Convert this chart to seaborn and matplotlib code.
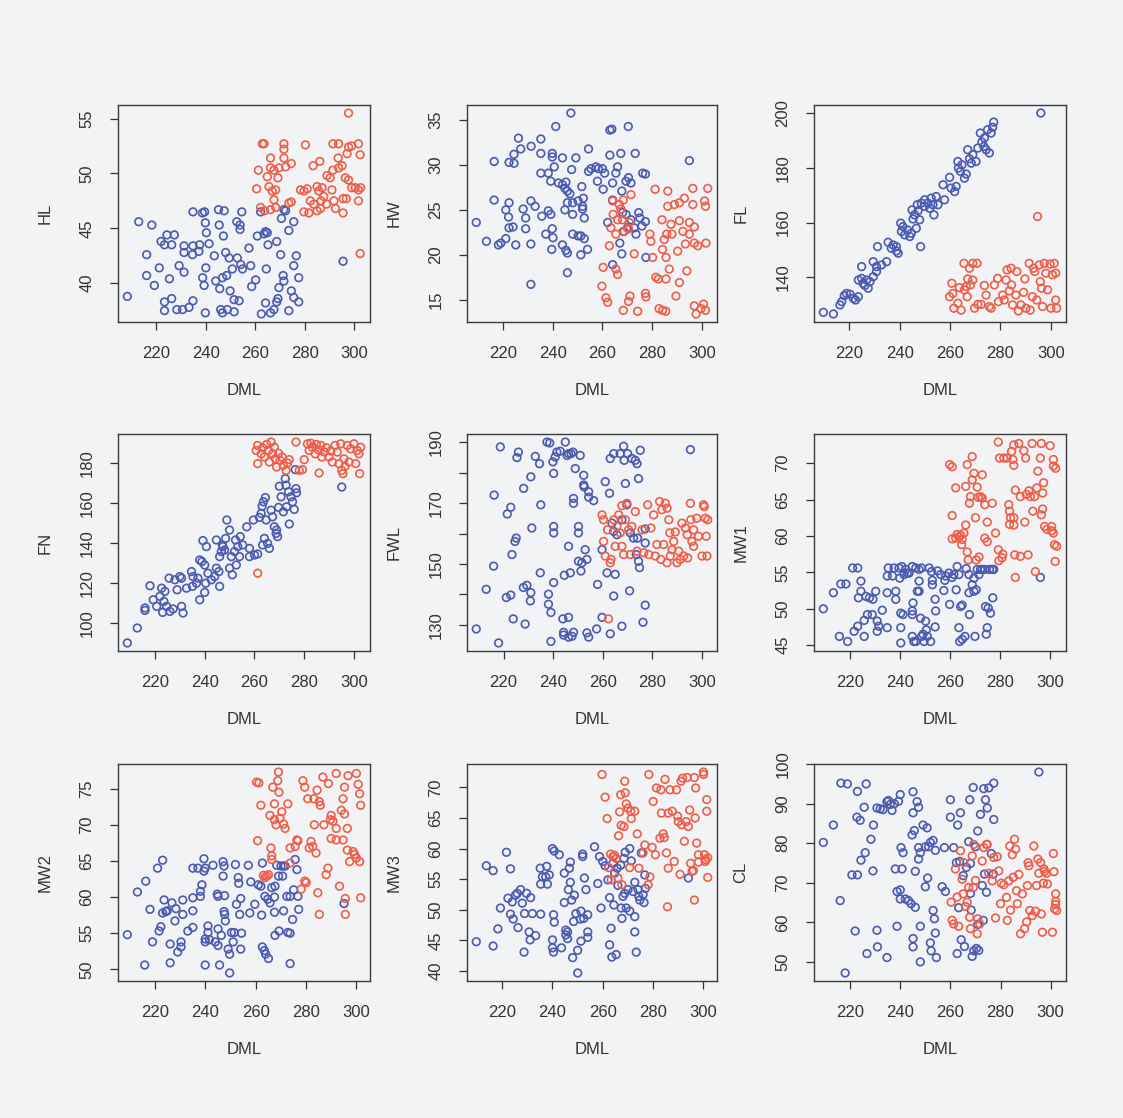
import numpy as np
import pandas as pd
import seaborn as sns
import matplotlib
matplotlib.use("Agg")
import matplotlib.pyplot as plt

hl_blue = [(208.4,38.8),(213.0,45.6),(218.3,45.3),(216.2,42.6),(216.2,40.7),(219.3,39.8),(221.3,41.4),(222.0,43.8),
    (224.4,44.4),(223.4,43.5),(226.3,43.5),(227.4,44.4),(225.4,40.4),(223.4,38.3),(223.4,37.5),(226.3,38.6),
    (228.4,37.6),(230.7,37.6),(229.3,41.6),(231.3,41.0),(231.3,42.8),(231.3,43.4),(233.3,37.8),(234.9,38.4),
    (234.9,43.4),(234.9,46.5),(234.7,42.6),(237.3,42.9),(237.6,43.5),(238.7,46.4),(239.6,46.5),(240.3,44.6),
    (239.9,45.5),(238.8,40.5),(239.4,39.8),(239.9,37.3),(241.4,43.6),(240.1,41.4),(244.1,40.2),(243.5,42.5),
    (245.2,46.7),(245.5,45.3),(247.2,44.3),(247.5,46.6),(245.7,39.5),(246.8,40.5),(246.1,37.6),(246.8,37.3),
    (248.8,37.6),(248.1,42.8),(249.5,42.3),(248.5,40.7),(249.9,39.3),(250.8,41.3),(251.5,38.5),(251.5,37.4),
    (252.8,42.3),(252.6,45.6),(253.9,44.9),(253.9,45.3),(254.6,46.5),(254.2,41.7),(254.9,41.3),(253.5,38.4),
    (257.5,43.2),(258.2,41.6),(258.6,39.7),(260.2,40.3),(260.9,44.3),(262.2,46.5),(263.6,44.5),(264.2,44.7),
    (264.9,44.6),(265.2,43.5),(264.5,41.3),(264.2,38.2),(262.5,37.2),(266.2,37.3),(267.6,37.6),(268.7,38.3),
    (269.2,38.6),(268.7,43.8),(270.3,42.6),(270.6,45.9),(271.6,46.7),(272.3,46.6),(269.6,39.6),(271.3,40.7),
    (271.6,40.2),(273.6,37.5),(273.6,44.8),(274.6,39.3),(275.6,41.6),(275.6,45.6),(276.6,42.5),(275.6,38.7),
    (277.6,38.3),(277.6,40.5),(295.5,42.0)]
hl_red = [(262.9,52.7),(263.6,52.7),(261.3,50.3),(260.6,48.6),(262.2,46.9),(263.8,46.6),(264.9,49.7),(266.2,51.4),
    (266.2,50.5),(267.6,50.3),(265.6,48.8),(266.9,48.4),(268.3,48.5),(269.2,49.6),(269.6,50.5),(267.6,47.6),
    (268.3,46.9),(266.2,46.7),(271.6,52.7),(271.6,52.2),(271.6,51.4),(272.3,50.6),(274.6,50.9),(273.6,47.3),
    (274.6,47.4),(280.3,52.6),(278.3,48.5),(279.7,48.4),(281.0,48.6),(279.7,46.5),(281.7,46.4),(282.3,47.5),
    (283.7,47.2),(283.4,50.7),(286.1,51.1),(285.0,48.8),(285.7,48.4),(287.0,48.7),(287.7,47.9),(286.6,47.5),
    (288.8,47.2),(285.0,46.6),(286.4,46.8),(289.0,49.8),(290.3,49.6),(291.0,48.5),(291.4,50.3),(291.4,52.7),
    (291.8,47.5),(292.4,46.8),(293.7,52.7),(293.5,51.4),(293.7,50.5),(295.1,50.7),(295.5,47.7),(296.8,47.7),
    (295.5,46.4),(296.4,49.6),(297.7,49.4),(297.1,51.8),(297.7,52.4),(299.0,52.5),(297.7,55.5),(299.0,48.7),
    (300.4,48.7),(301.7,52.7),(302.4,51.7),(301.7,48.5),(302.6,48.7),(301.7,47.5),(302.4,42.7)]

hw_blue = [(209.2,23.6),(213.3,21.5),(216.4,26.1),(216.4,30.4),(218.1,21.1),(219.1,21.3),(221.1,21.8),(221.1,25.0),
    (222.4,25.8),(222.2,24.2),(222.4,23.0),(224.0,23.1),(225.1,21.1),(222.4,30.3),(224.4,30.2),(224.4,31.2),
    (226.2,33.0),(227.1,31.8),(228.1,25.1),(229.1,24.1),(229.1,22.9),(231.3,32.1),(231.2,26.0),(232.9,25.4),
    (231.2,16.7),(231.2,21.2),(235.2,32.9),(235.2,31.3),(235.2,29.1),(235.6,24.3),(237.2,22.3),(238.2,29.1),
    (238.2,24.9),(239.2,24.5),(239.2,28.2),(239.8,31.3),(239.8,30.9),(240.6,29.8),(239.8,22.9),(240.1,21.9),
    (239.6,20.6),(241.2,34.3),(242.3,28.0),(243.9,30.8),(243.9,27.8),(244.9,27.4),(245.3,28.1),(245.9,27.1),
    (244.9,25.0),(245.9,25.8),(243.9,21.1),(245.3,20.5),(245.9,20.2),(245.9,18.0),(247.3,35.8),(247.6,29.5),
    (246.9,26.8),(248.0,25.8),(248.0,24.5),(248.0,22.3),(249.3,30.8),(250.2,26.0),(250.2,22.1),(251.3,22.1),
    (251.3,20.0),(251.7,27.6),(252.3,26.3),(252.0,25.4),(252.0,25.1),(252.7,24.1),(252.7,21.8),(254.0,20.6),
    (254.4,31.8),(254.4,29.3),(255.4,29.6),(257.4,29.8),(258.4,29.6),(258.0,28.2),(260.0,29.6),(260.3,27.3),
    (260.9,29.1),(262.1,23.6),(263.0,31.1),(263.0,33.9),(263.8,34.0),(264.1,28.0),(264.1,26.1),(264.1,18.9),
    (265.4,29.1),(266.1,29.8),(267.4,31.3),(267.8,27.1),(269.5,28.2),(270.4,34.3),(270.5,28.6),(271.5,28.0),
    (273.2,31.3),(268.1,24.7),(269.5,24.5),(268.4,22.6),(270.1,23.0),(271.5,23.9),(272.8,23.0),(273.5,22.3),
    (274.6,24.7),(275.1,24.1),(275.9,23.2),(276.2,29.1),(277.3,23.7),(277.5,19.7),(277.3,29.0),(267.0,21.3),
    (267.8,20.1),(295.0,30.5)]
hw_red = [(259.8,16.5),(260.3,18.6),(261.4,15.2),(262.1,14.7),(262.8,21.0),(263.4,23.0),(264.1,26.0),(264.3,24.5),
    (265.4,22.3),(265.4,18.4),(266.1,17.8),(266.1,23.9),(266.8,25.6),(267.4,25.1),(268.1,23.9),(268.4,26.1),
    (268.8,22.6),(270.5,22.9),(270.8,23.6),(271.5,26.7),(268.4,13.8),(270.5,14.8),(271.1,15.4),(272.8,20.1),
    (274.2,13.7),(277.3,15.7),(277.5,15.3),(279.5,21.5),(279.1,22.3),(280.2,19.7),(281.2,27.3),(281.5,17.5),
    (282.5,17.3),(282.8,14.0),(284.2,13.8),(285.5,13.7),(284.0,23.9),(284.2,20.6),(284.9,21.7),(285.9,22.3),
    (285.6,19.7),(285.6,17.3),(286.3,27.1),(286.3,25.4),(286.9,18.4),(287.6,23.4),(288.0,22.3),(289.6,15.4),
    (289.0,25.6),(291.0,25.8),(290.3,20.4),(291.0,16.9),(291.0,23.8),(292.4,22.6),(293.0,26.3),(293.4,21.2),
    (294.0,18.2),(295.0,23.6),(295.0,22.3),(296.4,25.6),(296.4,27.4),(297.0,23.1),(297.0,14.3),(297.7,13.4),
    (298.4,21.0),(299.7,14.0),(300.7,14.5),(301.5,13.8),(301.1,26.0),(301.5,25.4),(301.7,21.3),(302.4,27.4),
    (297.0,21.3)]

fl_blue = [(209.7,127.2),(213.7,126.6),(216.3,129.9),(217.0,131.1),(218.0,133.3),(218.9,134.1),(220.3,133.8),
    (221.6,132.3),(222.5,131.7),(223.6,132.9),(224.9,143.9),(223.6,139.0),(224.9,139.6),(225.5,137.8),
    (226.9,139.0),(226.2,137.0),(228.2,138.4),(227.5,136.0),(229.5,140.2),(229.5,145.7),(230.8,142.1),
    (230.8,143.9),(231.2,151.2),(232.8,144.5),(234.8,145.7),(235.4,152.8),(236.7,150.6),(237.4,151.8),
    (238.7,149.6),(238.7,151.2),(239.4,148.8),(240.4,159.8),(240.7,156.7),(241.3,158.5),(242.0,155.5),
    (243.1,157.3),(244.0,154.9),(244.6,156.1),(245.3,161.3),(244.9,164.6),(245.9,162.8),(246.6,157.9),
    (247.0,166.5),(247.3,164.3),(247.9,161.0),(248.3,151.2),(248.6,167.1),(249.9,165.9),(249.9,168.3),
    (251.2,167.1),(251.9,165.2),(252.5,168.9),(253.2,166.5),(253.6,162.8),(254.5,169.5),(255.2,166.5),
    (257.2,173.8),(257.8,168.3),(259.8,176.5),(260.4,172.6),(261.8,171.3),(262.4,173.2),(263.1,182.3),
    (263.3,179.9),(264.1,178.7),(264.7,181.1),(265.7,176.2),(266.4,177.7),(267.0,186.6),(267.7,183.3),
    (268.4,181.7),(269.0,184.8),(270.3,182.3),(271.0,187.2),(272.0,192.7),(272.6,189.4),(273.6,190.9),
    (273.4,187.8),(274.3,186.6),(274.9,193.9),(275.6,185.4),(276.3,192.7),(276.9,194.8),(277.3,196.7),
    (296.0,200.0)]
fl_red = [(259.8,132.9),(260.7,137.8),(261.1,134.1),(261.5,128.7),(263.1,130.5),(263.7,136.2),(264.4,128.0),
    (265.5,145.1),(265.7,135.4),(266.4,136.6),(266.8,132.9),(267.0,139.4),(267.7,143.3),(268.1,137.2),
    (269.0,145.1),(269.0,139.0),(269.7,128.7),(270.7,145.1),(271.0,130.1),(272.3,130.1),(273.6,137.0),
    (274.3,133.5),(275.6,129.3),(276.3,128.7),(277.6,137.2),(278.9,139.6),(279.2,131.1),(280.9,133.5),
    (281.5,131.7),(282.2,139.0),(282.6,142.7),(283.5,135.0),(284.4,137.2),(284.8,129.9),(286.1,133.5),
    (286.5,142.1),(287.1,127.7),(288.1,129.9),(289.2,134.5),(289.7,139.4),(290.1,128.7),(291.4,145.1),
    (291.8,128.0),(292.7,132.9),(293.1,143.3),(293.6,142.1),(294.7,162.2),(294.4,131.7),(295.4,144.5),
    (295.8,138.4),(296.3,136.0),(296.7,129.3),(297.4,145.1),(298.0,141.5),(298.7,135.4),(299.7,144.8),
    (300.6,140.9),(301.3,145.1),(301.9,131.7),(302.3,128.7),(301.9,141.5),(300.0,128.7),(284.2,143.3)]

fn_blue = [(208.9,90.0),(212.9,97.5),(216.0,106.3),(216.0,107.5),(218.0,118.6),(219.3,111.6),(220.7,108.3),
    (222.0,113.3),(222.7,117.4),(223.1,105.3),(223.6,110.8),(224.0,115.8),(224.7,108.3),(225.7,122.4),
    (226.0,105.8),(227.3,107.0),(228.0,121.6),(228.9,116.6),(230.0,123.2),(230.7,108.3),(231.3,105.0),
    (230.7,122.4),(232.7,117.4),(234.7,125.7),(235.3,123.2),(235.1,118.3),(236.7,119.9),(237.3,122.4),
    (238.0,111.6),(238.0,131.5),(238.9,130.7),(239.3,141.2),(240.0,129.0),(240.0,115.3),(240.4,119.9),
    (240.7,138.2),(241.3,124.9),(242.7,121.6),(244.0,123.2),(244.7,127.4),(244.7,141.5),(245.7,125.7),
    (246.0,118.3),(246.0,133.2),(246.7,135.7),(247.1,139.0),(247.3,138.2),(248.0,136.5),(248.4,142.3),
    (248.9,151.5),(250.0,146.5),(250.0,127.4),(251.1,124.1),(250.7,133.2),(252.0,135.7),(252.4,141.5),
    (253.3,138.2),(252.7,129.0),(254.0,133.2),(254.3,143.2),(255.3,139.0),(256.9,148.1),(258.0,137.3),
    (258.0,133.2),(259.6,151.5),(260.0,134.0),(261.3,134.5),(262.0,152.8),(262.7,154.8),(263.1,158.4),
    (263.6,160.6),(264.4,162.7),(263.3,139.0),(264.0,142.3),(264.7,151.5),(265.3,139.8),(266.0,137.3),
    (266.7,156.4),(267.3,153.1),(268.0,148.1),(268.7,144.8),(268.9,146.5),(269.3,143.2),(269.7,157.8),
    (270.0,168.4),(270.7,163.1),(271.6,155.6),(272.4,172.2),(272.7,168.9),(272.9,158.1),(273.7,165.6),
    (274.0,149.5),(274.7,163.1),(275.3,160.6),(276.0,156.8),(276.7,167.2),(276.9,165.1),(276.4,176.7),
    (295.1,168.0)]
fn_red = [(261.3,124.9),(260.7,186.3),(261.3,188.8),(261.3,179.7),(262.7,184.6),(263.3,187.6),(264.0,183.0),
    (264.9,189.3),(265.7,186.3),(266.0,180.5),(266.7,190.5),(267.3,184.6),(268.0,187.9),(268.4,182.1),
    (268.9,178.0),(269.7,184.9),(270.3,181.3),(271.1,183.0),(271.6,178.8),(272.7,176.3),(273.3,180.0),
    (274.0,181.7),(276.7,190.5),(278.0,176.3),(279.3,176.7),(280.0,181.7),(281.3,189.6),(282.0,186.3),
    (282.7,189.9),(283.3,187.9),(284.4,184.6),(284.9,189.3),(285.7,186.6),(286.0,175.0),(286.7,188.8),
    (287.1,183.0),(288.0,185.5),(288.9,187.6),(290.0,183.0),(290.7,186.0),(291.3,180.5),(292.4,188.8),
    (293.3,185.5),(294.0,179.7),(294.7,189.6),(295.1,176.3),(295.6,174.7),(296.0,182.1),(296.4,178.3),
    (297.3,188.8),(298.0,180.5),(298.7,187.1),(300.0,189.6),(300.7,179.7),(301.3,186.3),(302.0,184.6),
    (302.3,174.7),(302.7,187.9)]

fwl_blue = [(209.0,128.7),(213.0,141.7),(216.0,149.3),(216.2,172.6),(218.0,124.1),(218.7,188.4),(221.1,139.0),
    (222.9,139.8),(221.5,166.4),(222.9,168.6),(223.9,132.0),(223.4,153.1),(225.1,158.5),(224.6,157.4),
    (225.4,184.9),(226.0,186.7),(228.1,174.8),(228.7,130.3),(228.0,142.3),(229.4,143.0),(231.0,140.6),
    (230.8,137.9),(231.0,178.6),(231.4,161.8),(232.8,185.3),(234.5,182.9),(234.8,147.1),(235.0,169.4),
    (238.1,136.8),(238.1,140.1),(237.5,190.0),(238.6,189.7),(239.1,124.6),(239.1,134.1),(239.9,183.5),
    (240.2,179.7),(240.2,162.3),(240.2,160.2),(240.2,143.9),(240.8,185.1),(241.5,186.7),(242.8,187.0),
    (243.9,132.0),(244.2,127.6),(244.2,126.7),(244.5,146.3),(244.9,190.0),(245.6,185.6),(246.2,186.2),
    (246.2,155.8),(246.2,132.5),(246.2,126.0),(246.9,147.1),(247.2,186.2),(247.6,126.3),(248.0,186.7),
    (248.2,171.5),(248.2,169.9),(248.9,181.3),(248.2,127.6),(250.2,162.3),(250.2,160.2),(250.2,150.9),
    (250.9,185.6),(251.2,147.7),(251.6,150.4),(252.3,179.1),(252.3,175.9),(252.5,175.3),(252.9,154.7),
    (253.6,151.5),(253.6,127.4),(254.3,173.7),(254.3,171.9),(254.3,126.0),(256.3,170.8),(257.9,143.3),
    (257.5,128.7),(259.7,154.7),(259.7,132.5),(261.0,177.0),(261.7,147.1),(262.7,173.2),(263.0,127.1),
    (263.0,184.6),(263.7,163.4),(264.4,186.2),(264.4,160.7),(264.4,139.5),(265.0,146.6),(265.7,159.6),
    (267.0,186.2),(267.7,164.5),(268.4,188.6),(267.7,129.6),(268.6,184.0),(269.1,176.4),(269.7,169.4),
    (270.0,186.2),(270.8,141.2),(271.1,160.2),(271.7,184.6),(272.4,158.5),(273.1,184.0),(273.5,153.1),
    (273.8,182.9),(274.0,158.5),(274.4,178.0),(274.4,150.9),(274.8,148.8),(275.1,187.3),(276.2,130.9),
    (277.1,156.9),(277.1,161.5),(277.1,136.5),(295.3,187.5)]
fwl_red = [(259.7,166.1),(260.3,164.5),(260.3,157.4),(261.0,152.6),(261.9,161.2),(262.3,132.0),(263.0,150.4),
    (263.3,151.5),(264.4,164.5),(265.0,155.8),(265.7,162.3),(266.4,166.1),(267.0,160.2),(267.7,169.1),
    (267.7,155.8),(268.4,153.1),(269.1,164.5),(269.7,169.9),(270.4,161.2),(271.1,153.1),(271.7,162.3),
    (273.1,167.2),(273.8,154.2),(275.8,161.2),(276.5,153.7),(278.1,169.4),(278.5,153.1),(279.4,161.8),
    (280.5,166.1),(281.2,152.6),(281.8,156.4),(282.9,170.5),(283.8,167.8),(283.4,151.5),(284.5,156.4),
    (285.2,169.9),(285.9,168.3),(285.9,150.4),(286.6,164.5),(287.0,160.2),(287.2,152.6),(287.9,154.7),
    (288.6,157.4),(289.2,160.5),(289.9,150.4),(290.6,154.2),(291.2,151.5),(291.9,163.4),(292.6,152.6),
    (293.3,161.8),(294.0,159.6),(294.2,152.0),(295.3,169.9),(295.5,164.5),(295.9,157.4),(296.6,155.8),
    (296.6,161.2),(297.9,165.0),(298.6,159.1),(300.0,152.6),(300.6,169.4),(300.9,168.8),(301.3,165.0),
    (301.7,159.1),(302.0,152.6),(302.3,164.5)]

mw1_blue = [(209.4,50.0),(213.4,52.2),(215.8,46.2),(216.4,53.4),(218.4,53.4),(219.1,45.5),(221.1,55.6),
    (223.1,55.6),(221.7,46.9),(223.1,47.6),(224.4,53.8),(224.4,52.4),(223.4,51.5),(225.7,48.4),(225.7,46.2),
    (226.4,51.7),(227.0,49.2),(227.8,51.5),(228.9,49.2),(229.2,51.3),(230.3,52.4),(230.9,48.3),(230.9,46.9),
    (231.5,47.6),(232.9,49.8),(234.9,47.4),(234.9,52.2),(234.9,54.5),(235.3,55.6),(237.0,54.5),(237.6,55.6),
    (238.3,51.3),(238.3,52.4),(239.6,55.6),(239.9,54.2),(240.3,49.4),(240.3,47.4),(240.3,45.3),(240.7,55.8),
    (241.2,49.2),(241.6,54.7),(242.3,55.4),(242.9,54.9),(243.6,54.9),(244.9,55.8),(244.9,49.2),(244.9,49.7),
    (245.2,50.8),(244.9,46.2),(245.5,45.5),(246.3,55.6),(246.3,45.5),(246.9,52.4),(247.6,53.8),(247.6,52.4),
    (247.6,55.4),(248.2,48.7),(248.6,55.6),(248.6,46.2),(249.2,46.5),(249.6,45.5),(250.2,48.3),(250.5,47.1),
    (250.9,46.2),(251.6,55.6),(252.2,45.5),(252.6,55.1),(252.9,53.9),(252.9,53.3),(254.0,51.3),(254.2,49.7),
    (254.0,47.5),(255.0,55.2),(256.2,54.7),(257.5,52.5),(257.9,53.9),(258.2,54.5),(259.5,54.9),(259.8,50.6),
    (260.8,54.3),(261.5,54.7),(262.4,52.6),(262.8,55.8),(263.5,54.7),(263.8,45.5),(263.5,47.4),(264.2,50.3),
    (264.8,50.5),(264.8,45.8),(265.9,46.2),(266.4,55.5),(267.5,54.7),(267.7,49.2),(267.5,52.2),(268.8,53.3),
    (269.5,54.2),(269.5,52.4),(269.9,46.2),(270.4,52.6),(270.8,55.4),(271.5,54.7),(272.1,55.4),(272.8,55.4),
    (273.8,55.4),(274.1,50.3),(274.4,46.5),(274.8,47.4),(275.2,50.1),(275.7,55.4),(276.1,49.4),(276.8,55.4),
    (277.4,55.4),(277.0,51.5),(296.0,54.3)]
mw1_red = [(259.8,69.8),(260.8,69.5),(260.8,62.8),(260.8,59.6),(262.2,59.7),(262.8,60.2),(263.5,59.9),
    (264.2,60.1),(264.8,59.5),(265.5,60.4),(264.6,58.8),(262.2,66.6),(266.2,66.8),(266.2,61.5),(266.8,57.8),
    (266.8,69.8),(267.2,56.7),(267.7,64.5),(268.1,65.4),(268.8,67.7),(268.8,70.9),(269.5,68.6),(270.1,62.5),
    (270.4,56.7),(270.8,66.7),(271.2,65.3),(271.5,57.1),(272.1,65.4),(272.8,65.2),(272.8,68.4),(273.8,64.3),
    (273.8,59.7),(274.8,61.9),(274.8,59.2),(276.8,64.5),(278.1,60.4),(279.2,72.9),(279.2,58.1),(279.4,56.6),
    (279.7,70.7),(280.7,57.0),(281.0,57.5),(281.4,70.7),(282.7,70.7),(283.4,64.3),(283.7,63.4),(284.1,62.5),
    (283.7,61.6),(284.5,71.6),(285.0,70.5),(285.4,72.5),(285.4,69.7),(285.4,62.5),(285.4,61.5),(285.8,57.4),
    (286.0,54.3),(286.0,66.3),(287.4,72.7),(288.0,65.4),(288.0,57.2),(289.4,71.7),(289.8,61.9),(290.1,70.7),
    (290.4,65.7),(291.1,57.4),(291.4,66.2),(292.0,65.4),(292.7,72.7),(293.0,63.4),(293.7,65.4),(294.0,55.1),
    (294.6,66.6),(295.0,68.9),(296.0,70.7),(296.4,72.7),(296.4,62.9),(296.9,65.9),(297.3,67.3),(296.9,63.7),
    (297.7,61.3),(298.6,60.9),(299.9,72.4),(301.2,70.5),(301.2,69.6),(300.5,61.3),(301.2,60.4),(301.6,58.8),
    (301.9,56.5),(302.1,69.3),(302.5,58.6),(300.5,60.7)]

mw2_blue = [(209.1,54.8),(213.1,60.7),(216.0,50.6),(216.4,62.2),(218.1,58.3),(219.1,53.8),(221.1,64.0),
    (221.7,55.3),(222.4,55.9),(223.1,65.1),(223.1,57.8),(223.7,59.6),(224.4,58.0),(224.9,58.1),(226.1,53.5),
    (226.1,50.9),(226.8,59.2),(228.0,56.7),(228.4,58.4),(229.1,52.4),(230.4,53.8),(230.4,53.1),(231.1,59.6),
    (231.1,57.6),(233.1,55.3),(235.1,55.8),(235.1,58.1),(235.1,59.9),(235.1,64.0),(237.1,64.0),(238.1,60.1),
    (238.1,60.8),(238.7,61.7),(239.5,65.3),(239.5,63.6),(240.0,64.0),(240.0,54.2),(240.0,53.8),(240.0,50.6),
    (241.1,56.0),(241.1,55.1),(241.7,54.1),(243.1,64.4),(244.0,53.8),(245.1,55.6),(245.1,53.3),(244.8,60.4),
    (245.1,60.1),(245.7,50.6),(246.4,54.7),(247.1,64.9),(247.5,64.3),(247.1,62.9),(247.7,60.2),(247.5,58.0),
    (247.7,57.6),(248.0,56.7),(249.1,52.8),(249.7,49.5),(249.7,52.1),(250.4,55.1),(251.1,53.8),(251.5,55.1),
    (252.0,64.5),(252.4,59.0),(253.1,62.7),(253.3,61.9),(253.7,57.6),(254.1,59.8),(254.1,52.8),(254.4,55.0),
    (257.1,64.4),(257.7,57.8),(258.1,62.1),(259.7,59.0),(261.1,61.7),(262.1,61.5),(262.4,57.5),(262.7,64.7),
    (262.7,53.1),(263.5,52.6),(263.7,60.1),(264.0,52.1),(264.8,59.7),(265.1,51.5),(265.7,59.2),(266.4,61.3),
    (267.5,60.0),(267.5,57.9),(267.7,54.7),(267.7,61.5),(268.4,64.4),(269.1,62.9),(269.3,55.3),(270.1,64.3),
    (270.7,62.9),(271.1,58.1),(271.1,64.3),(271.7,64.3),(272.4,60.1),(272.8,55.1),(273.7,60.1),(273.7,50.8),
    (273.7,55.0),(274.7,56.9),(275.1,61.0),(275.7,65.2),(276.4,63.8),(276.8,60.1),(277.1,58.3),(295.1,59.1)]
mw2_red = [(260.8,67.8),(260.4,75.9),(261.3,75.8),(262.1,72.7),(263.1,63.0),(263.7,62.7),(264.4,62.9),
    (265.1,63.1),(265.7,71.3),(266.1,66.8),(266.4,65.7),(266.4,65.2),(266.8,75.2),(267.5,72.9),(267.5,70.7),
    (268.1,70.0),(268.8,76.1),(269.1,77.3),(269.3,74.5),(269.7,70.9),(270.4,71.8),(271.1,70.1),(271.7,69.5),
    (272.8,72.9),(273.7,66.8),(273.7,64.7),(275.7,67.0),(276.4,67.9),(276.8,67.8),(278.1,61.1),(278.8,76.1),
    (279.5,75.2),(279.5,62.2),(280.1,62.0),(280.7,73.6),(281.3,66.8),(282.0,67.7),(282.7,67.0),(283.1,73.6),
    (283.3,70.0),(284.0,66.1),(284.4,74.8),(284.7,60.6),(285.3,57.6),(285.3,73.2),(285.7,72.7),(286.7,76.6),
    (287.1,70.0),(288.0,63.1),(288.7,64.0),(288.9,75.7),(289.7,70.7),(290.0,71.3),(290.0,68.1),(290.7,70.5),
    (292.0,69.5),(292.0,67.9),(292.0,77.1),(293.3,61.5),(294.0,72.0),(294.7,73.6),(294.7,67.9),(295.3,75.2),
    (295.3,71.5),(295.6,59.8),(295.6,57.6),(296.4,69.5),(296.4,66.5),(296.7,76.8),(297.3,64.9),(298.7,66.3),
    (300.0,65.4),(300.0,77.1),(300.7,75.6),(301.3,74.3),(301.7,72.7),(301.7,59.9),(301.3,64.9),(299.3,65.9)]

mw3_blue = [(209.7,44.8),(213.7,57.2),(216.4,56.4),(216.4,44.1),(218.3,46.9),(219.3,50.3),(221.7,59.4),
    (222.3,51.9),(223.3,56.7),(223.3,49.3),(224.0,51.3),(224.4,48.5),(225.3,52.4),(226.0,52.7),(226.3,47.1),
    (227.3,53.3),(228.0,51.1),(228.7,43.1),(228.9,49.4),(229.7,52.7),(230.7,46.4),(231.1,45.1),(231.3,52.0),
    (232.0,49.4),(233.3,45.8),(235.1,56.8),(235.3,54.2),(235.3,49.3),(236.0,55.4),(237.3,55.4),(237.7,57.1),
    (238.0,54.2),(238.7,55.7),(240.0,60.0),(240.7,59.6),(240.4,49.2),(240.7,48.0),(240.0,45.1),(240.0,43.8),
    (240.4,43.1),(242.7,59.0),(243.6,43.8),(244.7,56.0),(244.7,51.2),(245.3,46.7),(245.3,45.9),(246.0,46.4),
    (246.0,45.3),(246.3,53.3),(246.7,56.8),(247.1,57.8),(247.1,54.5),(247.6,51.6),(248.0,42.2),(248.4,48.1),
    (248.7,52.4),(249.3,49.4),(250.0,43.4),(250.0,39.7),(251.1,48.5),(251.3,44.9),(251.3,49.8),(252.0,59.1),
    (252.0,58.7),(252.4,48.6),(252.7,55.2),(253.3,53.3),(254.0,49.2),(254.0,46.4),(254.0,45.5),(256.7,60.3),
    (258.0,54.3),(258.7,58.7),(259.3,50.3),(260.0,57.9),(260.9,57.2),(262.0,54.9),(262.7,52.0),(262.7,44.3),
    (263.3,47.0),(263.6,42.3),(264.0,57.6),(264.4,50.8),(264.7,56.0),(265.3,42.7),(265.7,56.8),(266.0,54.0),
    (267.1,57.3),(267.3,50.3),(267.6,48.6),(268.0,52.2),(268.4,58.4),(268.7,52.7),(268.9,59.4),(269.3,50.3),
    (270.0,53.3),(270.7,60.0),(270.7,49.8),(271.3,58.0),(272.0,53.0),(272.7,48.9),(272.7,46.4),(272.7,54.5),
    (273.3,43.1),(274.0,53.3),(274.3,52.2),(274.7,51.6),(275.3,59.3),(276.0,52.5),(276.4,51.2),(276.9,53.5),
    (276.7,55.7),(294.0,55.2)]
mw3_red = [(259.7,72.1),(260.9,68.4),(261.7,64.9),(262.3,56.9),(263.1,59.1),(263.3,54.9),(264.0,58.7),
    (264.7,58.9),(265.3,58.4),(266.0,55.2),(266.3,62.1),(266.7,66.0),(267.1,68.8),(267.3,63.8),(267.6,54.1),
    (268.4,63.6),(268.7,71.0),(268.9,69.1),(269.3,67.3),(270.0,66.6),(270.7,56.9),(271.1,66.1),(271.3,64.9),
    (272.7,66.1),(273.7,62.4),(274.3,56.8),(276.0,59.3),(276.7,60.6),(278.0,54.1),(278.3,72.1),(278.7,55.4),
    (279.6,60.2),(280.0,67.7),(280.9,59.0),(281.3,69.9),(282.7,61.7),(283.1,69.6),(283.3,65.8),(284.0,62.4),
    (284.4,61.8),(284.7,71.3),(285.3,59.3),(285.7,50.5),(286.0,65.8),(286.0,56.8),(286.7,69.6),(287.6,66.1),
    (288.4,57.9),(289.3,69.6),(289.7,65.3),(290.0,64.4),(290.7,55.8),(291.1,71.0),(291.3,63.9),(291.7,71.5),
    (292.4,61.2),(293.1,64.4),(293.5,71.6),(294.0,63.6),(294.5,66.3),(294.9,57.6),(295.5,56.3),(296.0,56.4),
    (296.4,71.6),(296.4,51.6),(296.7,65.0),(296.9,69.9),(297.3,60.9),(298.0,59.0),(298.0,57.8),(300.0,72.5),
    (300.0,72.1),(300.4,59.0),(300.9,58.2),(301.3,68.0),(301.3,66.1),(301.7,58.5),(301.7,55.3),(300.7,57.9)]

cl_blue = [(209.3,80.2),(213.3,84.6),(216.0,65.5),(216.3,95.2),(218.0,47.2),(218.9,95.0),(222.0,57.8),
    (220.7,72.0),(222.9,72.0),(222.9,93.1),(222.7,86.6),(224.0,85.8),(224.3,75.7),(225.6,89.1),(226.0,77.6),
    (226.4,95.0),(226.7,52.1),(228.3,81.0),(229.1,73.0),(229.3,84.6),(230.7,88.9),(230.7,58.0),(230.9,53.8),
    (232.0,88.7),(233.1,88.5),(234.7,90.5),(234.7,51.1),(235.3,90.8),(236.0,89.8),(236.7,88.3),(237.6,90.0),
    (238.0,73.5),(238.7,59.0),(238.7,67.8),(239.3,90.6),(240.0,92.3),(240.0,68.2),(240.7,73.5),(240.3,78.9),
    (241.1,77.6),(240.0,65.9),(242.0,65.9),(243.3,65.5),(244.3,64.7),(245.1,87.7),(245.1,93.0),(244.7,82.1),
    (245.6,83.2),(246.0,72.9),(246.0,63.8),(245.1,55.9),(245.1,53.8),(246.7,90.5),(247.3,89.1),(247.3,78.9),
    (247.3,76.0),(248.0,77.6),(248.0,59.0),(248.0,50.0),(249.1,84.6),(250.0,69.0),(250.0,79.1),(250.7,83.9),
    (250.9,71.2),(251.3,79.1),(252.0,80.2),(252.0,54.8),(252.3,52.8),(253.1,80.7),(253.1,63.0),(253.6,60.9),
    (254.0,78.2),(254.0,57.3),(254.4,51.1),(256.7,69.0),(257.6,78.9),(258.0,67.8),(260.0,91.0),(260.0,86.6),
    (261.3,78.9),(262.4,75.1),(262.7,52.1),(262.9,84.6),(263.3,63.7),(263.7,75.4),(264.0,87.7),(264.3,55.6),
    (265.1,71.8),(265.6,53.9),(266.4,73.9),(267.3,80.4),(267.7,91.0),(268.0,74.9),(268.0,67.3),(268.3,63.1),
    (268.7,51.4),(269.1,94.1),(269.3,52.8),(270.0,79.1),(270.4,53.4),(270.9,83.1),(270.9,59.5),(271.3,52.9),
    (272.0,87.3),(272.7,69.3),(273.1,60.5),(273.3,93.8),(273.6,72.2),(274.0,91.0),(274.4,67.6),(274.7,88.9),
    (275.3,94.0),(276.3,77.4),(277.1,72.2),(277.3,95.2),(277.3,86.0),(295.3,98.0)]
cl_red = [(260.3,65.1),(260.7,60.5),(261.3,59.6),(262.0,73.5),(262.7,66.4),(263.3,59.0),(264.0,78.1),
    (264.7,70.9),(265.1,67.2),(265.3,75.1),(266.0,64.0),(266.7,65.1),(267.3,68.8),(267.7,61.3),(268.0,58.4),
    (268.7,76.8),(269.1,68.8),(269.3,79.7),(270.0,70.6),(270.7,57.1),(270.9,60.9),(271.7,59.6),(272.7,75.5),
    (273.3,78.9),(274.4,79.7),(274.7,79.7),(275.3,72.4),(276.7,70.5),(277.3,76.4),(278.0,61.1),(278.7,76.6),
    (279.3,73.0),(280.0,64.7),(280.3,69.9),(281.3,69.5),(282.4,66.3),(282.7,60.5),(283.3,70.5),(283.7,79.3),
    (284.0,63.1),(284.7,77.1),(285.1,71.4),(285.6,81.0),(286.0,78.5),(286.4,68.0),(286.7,64.7),(287.3,72.1),
    (288.0,57.1),(288.7,67.2),(289.6,58.4),(290.4,60.1),(290.7,69.3),(291.0,75.1),(291.3,74.3),(291.7,63.0),
    (292.7,61.7),(293.3,79.3),(294.0,62.8),(294.4,69.3),(294.9,76.0),(295.3,72.4),(296.0,75.1),(296.3,62.1),
    (296.7,57.5),(297.1,69.9),(297.3,73.5),(297.6,72.9),(298.4,72.4),(298.7,69.7),(300.7,57.5),(301.1,77.4),
    (301.3,72.8),(301.6,63.4),(302.0,67.2),(302.0,65.3),(302.4,63.0),(302.0,64.5)]

var_names = ["HL", "HW", "FL", "FN", "FWL", "MW1", "MW2", "MW3", "CL"]
y_ticks = [[40, 45, 50, 55], [15, 20, 25, 30, 35], [140, 160, 180, 200],
           [100, 120, 140, 160, 180], [130, 140, 150, 160, 170, 180, 190],
           [45, 50, 55, 60, 65, 70], [50, 55, 60, 65, 70, 75],
           [40, 45, 50, 55, 60, 65, 70], [50, 60, 70, 80, 90, 100]]
x_ticks = [220, 240, 260, 280, 300]

panels = [(hl_blue, hl_red), (hw_blue, hw_red), (fl_blue, fl_red),
          (fn_blue, fn_red), (fwl_blue, fwl_red), (mw1_blue, mw1_red),
          (mw2_blue, mw2_red), (mw3_blue, mw3_red), (cl_blue, cl_red)]

BLUE = "#4a5ab2"
RED = "#ef5d48"
BG = "#f2f3f4"
INK = "#333333"

sns.set_style("ticks")
plt.rcParams["font.family"] = ["Liberation Sans", "DejaVu Sans"]

W, H = 1123, 1118
fig = plt.figure(figsize=(W / 100, H / 100), dpi=100, facecolor=BG)

col_left = [118, 467, 814]
col_width = [252, 250, 252]
row_top = [105, 434, 764]
ax_h = 217


def r_limits(values):
    # R-style axis range: data span padded by 4% on each side
    lo, hi = min(values), max(values)
    pad = 0.04 * (hi - lo)
    return lo - pad, hi + pad


for i, (name, (blue, red)) in enumerate(zip(var_names, panels)):
    r, c = divmod(i, 3)
    left = col_left[c] / W
    bottom = 1 - (row_top[r] + ax_h) / H
    ax = fig.add_axes([left, bottom, col_width[c] / W, ax_h / H])
    ax.set_facecolor(BG)

    frames = []
    for pts, grp in [(blue, "blue"), (red, "red")]:
        d = pd.DataFrame(pts, columns=["DML", name])
        d["group"] = grp
        frames.append(d)
    df = pd.concat(frames, ignore_index=True)

    for grp, colr in [("blue", BLUE), ("red", RED)]:
        sub = df[df["group"] == grp]
        sns.scatterplot(data=sub, x="DML", y=name, ax=ax, marker="o", s=30,
                        facecolor="none", edgecolor=colr, linewidth=1.2,
                        legend=False)

    ax.set_xlim(*r_limits(df["DML"]))
    ax.set_ylim(*r_limits(df[name]))
    ax.set_xticks(x_ticks)
    ax.set_yticks(y_ticks[i])
    if name == "FWL":
        ax.set_yticklabels([str(t) if t in (130, 150, 170, 190) else "" for t in y_ticks[i]])
    ax.tick_params(axis="both", direction="out", length=6, width=0.9, pad=11,
                   labelsize=12, colors=INK)
    ax.tick_params(axis="y", labelrotation=90)
    for lab in ax.get_yticklabels():
        lab.set_va("center")
    for sp in ax.spines.values():
        sp.set_visible(True)
        sp.set_color("#3a3a3a")
        sp.set_linewidth(1.0)
    ax.set_xlabel("DML", fontsize=12, color=INK)
    ax.set_ylabel(name, fontsize=12, color=INK)
    ax.xaxis.set_label_coords(0.5, -0.28)
    ax.yaxis.set_label_coords(-0.26, 0.5)

fig.savefig("out.png", dpi=100, facecolor=BG)
